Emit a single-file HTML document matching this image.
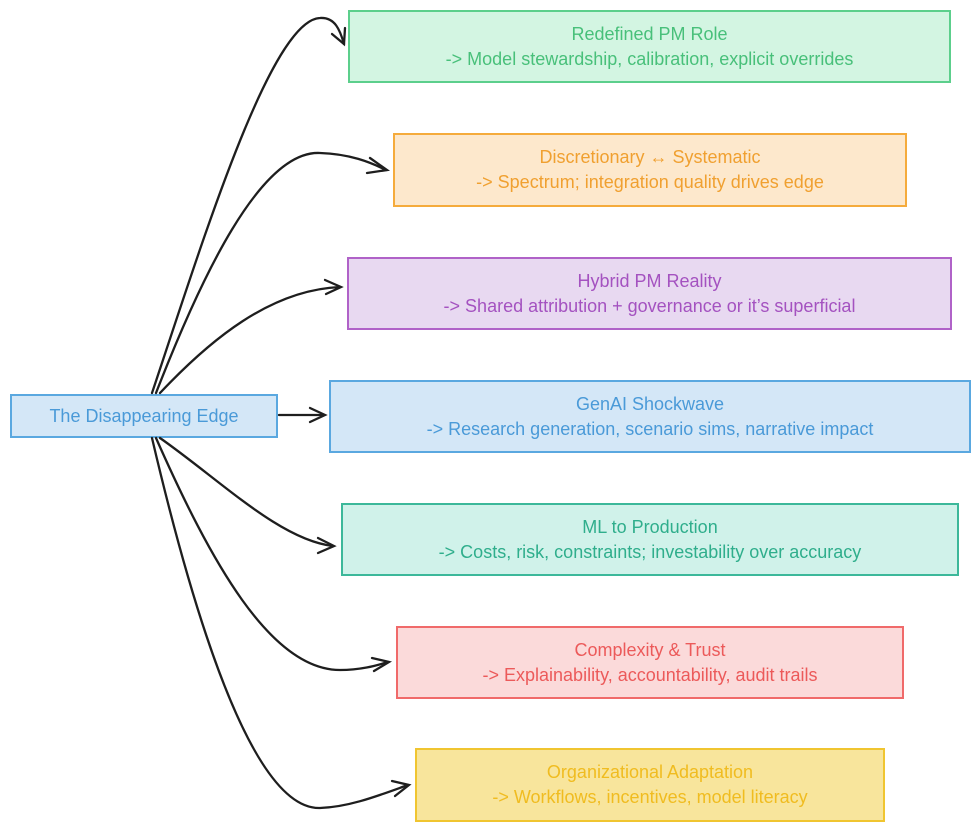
<!DOCTYPE html>
<html><head><style>
body{margin:0;width:980px;height:831px;background:#fff;position:relative;overflow:hidden;font-family:"Liberation Sans",sans-serif}
.b{position:absolute;box-sizing:border-box;border:2px solid;display:flex;flex-direction:column;justify-content:center;align-items:center;font-size:18px;line-height:25px;text-align:center}
svg{position:absolute;left:0;top:0}
</style></head><body>
<div class="b" style="left:10px;top:394px;width:268px;height:44px;border-color:#5aa8e0;background:#d4e7f7;color:#4a9ad8">The Disappearing Edge</div>
<div class="b" style="left:348px;top:10px;width:603px;height:73px;border-color:#5ccf8c;background:#d3f5e2;color:#48c07a"><div>Redefined PM Role</div><div>-&gt; Model stewardship, calibration, explicit overrides</div></div>
<div class="b" style="left:393px;top:133px;width:514px;height:74px;border-color:#f5ab3c;background:#fde8cc;color:#f0a030"><div>Discretionary ↔ Systematic</div><div>-&gt; Spectrum; integration quality drives edge</div></div>
<div class="b" style="left:347px;top:257px;width:605px;height:73px;border-color:#b062c8;background:#e8d9f1;color:#a452c0"><div>Hybrid PM Reality</div><div>-&gt; Shared attribution + governance or it’s superficial</div></div>
<div class="b" style="left:329px;top:380px;width:642px;height:73px;border-color:#5aa8e0;background:#d4e7f7;color:#4a9ad8"><div>GenAI Shockwave</div><div>-&gt; Research generation, scenario sims, narrative impact</div></div>
<div class="b" style="left:341px;top:503px;width:618px;height:73px;border-color:#3cb89a;background:#d0f2ea;color:#2fae8c"><div>ML to Production</div><div>-&gt; Costs, risk, constraints; investability over accuracy</div></div>
<div class="b" style="left:396px;top:626px;width:508px;height:73px;border-color:#f06a6a;background:#fbdada;color:#ec5a5a"><div>Complexity &amp; Trust</div><div>-&gt; Explainability, accountability, audit trails</div></div>
<div class="b" style="left:415px;top:748px;width:470px;height:74px;border-color:#f0c530;background:#f8e59c;color:#f0bc20"><div>Organizational Adaptation</div><div>-&gt; Workflows, incentives, model literacy</div></div>
<svg width="980" height="831" fill="none" stroke="#1e1e1e" stroke-width="2.3" stroke-linecap="round">
<path d="M152 393 C200 250 270 20 320 18 C335 17 340 30 344 44"/><path d="M332 34 L344 44 L345 28"/>
<path d="M156 393 C200 280 260 150 320 153 C350 154 370 162 386 170"/><path d="M370 158 L387 170 L367 173"/>
<path d="M160 393 C210 340 270 290 340 287"/><path d="M325 280 L341 287 L326 294"/>
<path d="M279 415 L324 415"/><path d="M310 408 L325 415 L310 422"/>
<path d="M160 438 C220 480 280 540 333 546"/><path d="M318 538 L334 546 L318 553"/>
<path d="M156 438 C210 560 270 670 340 670 C360 670 375 666 388 662"/><path d="M372 658 L389 662 L374 671"/>
<path d="M152 438 C190 600 250 810 320 808 C350 807 380 795 408 785"/><path d="M392 781 L409 785 L395 796"/>
</svg>
</body></html>
